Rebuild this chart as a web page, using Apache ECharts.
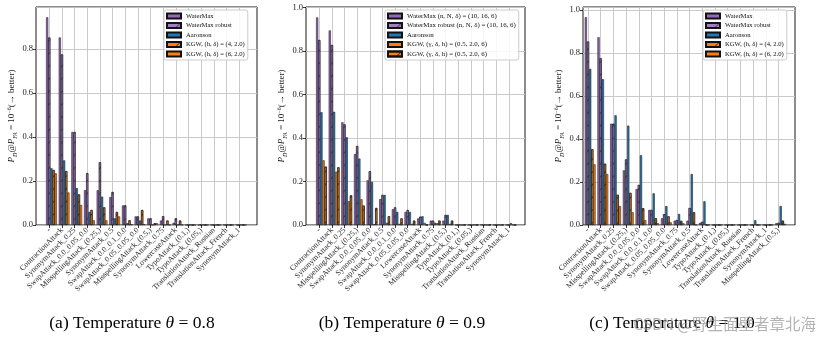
<!DOCTYPE html>
<html><head><meta charset="utf-8">
<script src="https://cdn.jsdelivr.net/npm/echarts@6/dist/echarts.min.js"></script>
<style>html,body{margin:0;padding:0;background:#fff}#c{width:827px;height:341px}</style>
</head><body><div id="c"></div>
<script>
// ---------- data ----------
const categoriesA = ["-", "ContractionAttack", "SynonymAttack_0.25", "SwapAttack_0.0_0.05_0.0", "MisspellingAttack_(0.25,)", "SynonymAttack_0.5", "SwapAttack_0.0_0.1_0.0", "SwapAttack_0.05_0.05_0.0", "MisspellingAttack_(0.5,)", "SynonymAttack_0.75", "LowercaseAttack", "TypoAttack_(0.1,)", "TypoAttack_(0.05,)", "TranslationAttack_Russian", "TranslationAttack_French", "SynonymAttack_1"];
const categoriesB = ["-", "ContractionAttack", "SynonymAttack_0.25", "MisspellingAttack_(0.25,)", "SwapAttack_0.0_0.05_0.0", "SynonymAttack_0.5", "SwapAttack_0.0_0.1_0.0", "SwapAttack_0.05_0.05_0.0", "LowercaseAttack", "SynonymAttack_0.75", "MisspellingAttack_(0.5,)", "TypoAttack_(0.1,)", "TypoAttack_(0.05,)", "TranslationAttack_Russian", "TranslationAttack_French", "SynonymAttack_1"];
const categoriesC = ["-", "ContractionAttack", "SynonymAttack_0.25", "MisspellingAttack_(0.25,)", "SwapAttack_0.0_0.05_0.0", "SwapAttack_0.0_0.1_0.0", "SwapAttack_0.05_0.05_0.0", "SynonymAttack_0.75", "SynonymAttack_0.5", "LowercaseAttack", "TypoAttack_(0.1,)", "TypoAttack_(0.05,)", "TranslationAttack_Russian", "TranslationAttack_French", "SynonymAttack_1", "MisspellingAttack_(0.5,)"];

const namesA = ["WaterMax", "WaterMax robust", "Aaronson", "KGW, (h, δ) = (4, 2.0)", "KGW, (h, δ) = (6, 2.0)"];
const namesB = ["WaterMax (n, N, δ) = (10, 16, 6)", "WaterMax robust (n, N, δ) = (10, 16, 6)", "Aaronson", "KGW, (γ, δ, h) = (0.5, 2.0, 6)", "KGW, (γ, δ, h) = (0.5, 2.0, 6) "];
const namesC = ["WaterMax", "WaterMax robust", "Aaronson", "KGW, (h, δ) = (4, 2.0)", "KGW, (h, δ) = (6, 2.0)"];

const watermaxA       = [0.945, 0.853, 0.423, 0.158, 0.158, 0.127, 0.089, 0.039, 0.030, 0.020, 0.010, 0, 0, 0, 0, 0];
const watermaxRobustA = [0.853, 0.776, 0.423, 0.236, 0.285, 0.150, 0.089, 0.039, 0.030, 0.040, 0.030, 0, 0, 0, 0, 0];
const aaronsonA       = [0.258, 0.294, 0.168, 0.059, 0.129, 0.030, 0.008, 0.020, 0.000, 0.000, 0.000, 0, 0, 0, 0, 0];
const kgw4A           = [0.250, 0.245, 0.139, 0.068, 0.080, 0.059, 0.021, 0.068, 0.008, 0.020, 0.020, 0, 0, 0, 0, 0];
const kgw6A           = [0.235, 0.148, 0.091, 0.021, 0.021, 0.039, 0.003, 0.003, 0.008, 0.000, 0.000, 0, 0, 0, 0, 0];

const watermaxB       = [0.954, 0.894, 0.472, 0.326, 0.205, 0.119, 0.072, 0.060, 0.030, 0.020, 0.020, 0, 0, 0, 0, 0];
const watermaxRobustB = [0.850, 0.827, 0.462, 0.363, 0.247, 0.138, 0.081, 0.069, 0.038, 0.020, 0.046, 0, 0, 0, 0, 0];
const aaronsonB       = [0.518, 0.520, 0.403, 0.305, 0.198, 0.138, 0.060, 0.060, 0.040, 0.010, 0.046, 0, 0, 0, 0, 0.008];
const kgwPlainB       = [0.297, 0.245, 0.109, 0.118, 0.003, 0.010, 0.005, 0.005, 0.010, 0.008, 0.005, 0, 0, 0, 0, 0];
const kgwHatchB       = [0.268, 0.265, 0.136, 0.089, 0.078, 0.040, 0.030, 0.020, 0.000, 0.020, 0.020, 0, 0, 0, 0, 0];

const watermaxC       = [0.966, 0.873, 0.471, 0.254, 0.167, 0.070, 0.031, 0.020, 0.020, 0.010, 0, 0, 0, 0, 0, 0.008];
const watermaxRobustC = [0.853, 0.775, 0.471, 0.305, 0.186, 0.070, 0.050, 0.023, 0.079, 0.015, 0, 0, 0, 0, 0, 0.010];
const aaronsonC       = [0.726, 0.678, 0.510, 0.462, 0.324, 0.147, 0.088, 0.051, 0.237, 0.110, 0, 0, 0, 0.022, 0, 0.088];
const kgw4C           = [0.352, 0.285, 0.140, 0.149, 0.078, 0.031, 0.040, 0.019, 0.059, 0.000, 0, 0, 0, 0, 0, 0.020];
const kgw6C           = [0.282, 0.237, 0.088, 0.059, 0.022, 0.008, 0.012, 0.008, 0.000, 0.000, 0, 0, 0, 0, 0, 0.005];

const captionsText = ["(a) Temperature ", "(b) Temperature ", "(c) Temperature "];
const captionsValue = ["0.8", "0.9", "1.0"];
const watermarkText = "CSDN @野生面壁者章北海";

// ---------- styling / layout ----------
const FONT = "'Liberation Serif','DejaVu Serif',serif";
const PURPLE = '#9467bd', BLUE = '#1f77b4', ORANGE = '#ff7f0e';
const hatch = {symbol: 'rect', symbolSize: 1, dashArrayX: [1, 0], dashArrayY: [1, 8], rotation: -Math.PI / 4, color: 'rgba(0,0,0,0.55)'};

const panels = [
  {cats: categoriesA, names: namesA, data: [watermaxA, watermaxRobustA, aaronsonA, kgw4A, kgw6A],
   colors: [PURPLE, PURPLE, BLUE, ORANGE, ORANGE], hatched: [false, true, false, true, false],
   max: 0.992, L: 36, R: 257, T0: 49.3, S: 12.65, legendLeft: 164, capX: 132},
  {cats: categoriesB, names: namesB, data: [watermaxB, watermaxRobustB, aaronsonB, kgwPlainB, kgwHatchB],
   colors: [PURPLE, PURPLE, BLUE, ORANGE, ORANGE], hatched: [false, true, false, false, true],
   max: 1.002, L: 306, R: 525, T0: 319.3, S: 12.63, legendLeft: 385, capX: 402},
  {cats: categoriesC, names: namesC, data: [watermaxC, watermaxRobustC, aaronsonC, kgw4C, kgw6C],
   colors: [PURPLE, PURPLE, BLUE, ORANGE, ORANGE], hatched: [false, true, false, true, false],
   max: 1.014, L: 583, R: 795, T0: 588, S: 12.7, legendLeft: 703, capX: 672}
];

const TOP = 7, BOTTOM = 225;
const grid = [], xAxis = [], yAxis = [], series = [], legend = [], graphic = [];

panels.forEach((p, k) => {
  const ga = 2 * k, gb = 2 * k + 1;
  const w = p.S * 0.17;
  grid.push({left: p.L, width: p.R - p.L, top: TOP, height: BOTTOM - TOP, show: true,
             borderColor: '#000', borderWidth: 0.9, backgroundColor: 'transparent'});
  grid.push({left: p.T0, width: 15 * p.S, top: TOP, height: BOTTOM - TOP, show: false});
  xAxis.push({gridIndex: ga, type: 'value', min: 0, max: 1, show: false});
  xAxis.push({gridIndex: gb, type: 'category', data: p.cats, boundaryGap: false,
    axisLine: {show: false},
    axisTick: {show: true, interval: 0, length: 3, lineStyle: {color: '#000', width: 0.8}},
    axisLabel: {interval: 0, rotate: 45, fontFamily: FONT, fontSize: 7.8, color: '#222', margin: 4},
    splitLine: {show: true, interval: 0, lineStyle: {color: '#c4c4c4', width: 0.9}}});
  yAxis.push({gridIndex: ga, type: 'value', min: 0, max: p.max, interval: 0.2,
    axisLine: {show: false},
    axisTick: {show: true, length: 3, lineStyle: {color: '#000', width: 0.8}},
    axisLabel: {fontFamily: FONT, fontSize: 8.5, color: '#222', margin: 3, showMaxLabel: false,
                formatter: v => v.toFixed(1)},
    splitLine: {show: true, lineStyle: {color: '#c4c4c4', width: 0.9}},
    name: '{i|P}{sub|D}{n|@}{i|P}{sub|FA}{n| = 10}{sup|−6}{n|(→ better)}',
    nameLocation: 'middle', nameGap: 18,
    nameTextStyle: {fontFamily: FONT, fontSize: 9, color: '#222',
      rich: {
        i: {fontFamily: FONT, fontSize: 9, fontStyle: 'italic', lineHeight: 12, verticalAlign: 'middle'},
        n: {fontFamily: FONT, fontSize: 9, lineHeight: 12, verticalAlign: 'middle'},
        sub: {fontFamily: FONT, fontSize: 6, fontStyle: 'italic', lineHeight: 12, verticalAlign: 'bottom'},
        sup: {fontFamily: FONT, fontSize: 6, lineHeight: 12, verticalAlign: 'top'}
      }}});
  yAxis.push({gridIndex: gb, type: 'value', min: 0, max: p.max, show: false});

  // two empty slots so that the tick sits on the 2nd real bar (as in the source figure)
  for (let d = 0; d < 2; d++) {
    series.push({type: 'bar', name: '_pad' + k + d, xAxisIndex: gb, yAxisIndex: gb,
      data: p.cats.map(() => '-'), barWidth: w, barGap: '0%', silent: true,
      itemStyle: {color: 'rgba(0,0,0,0)'}});
  }
  p.data.forEach((vals, j) => {
    const itemStyle = {color: p.colors[j], borderColor: '#111', borderWidth: 0.5, opacity: j === 1 ? 0.85 : 1};
    if (p.hatched[j]) itemStyle.decal = hatch;
    series.push({type: 'bar', name: p.names[j], xAxisIndex: gb, yAxisIndex: gb, data: vals,
      barWidth: w, barGap: '0%', clip: false, itemStyle, emphasis: {disabled: true}});
  });

  legend.push({left: p.legendLeft, top: 10, orient: 'vertical', data: p.names, icon: 'rect',
    itemWidth: 14, itemHeight: 5, itemGap: 1.5, padding: [2, 3, 2, 2], selectedMode: false,
    backgroundColor: 'rgba(255,255,255,0.85)', borderColor: '#cccccc', borderWidth: 1, borderRadius: 2,
    textStyle: {fontFamily: FONT, fontSize: k === 1 ? 6.9 : 6.6, color: '#111', lineHeight: 8}});

  graphic.push({type: 'text', x: p.capX, y: 323, z: 10,
    style: {text: captionsText[k] + '{i|θ} = ' + captionsValue[k], fontFamily: FONT, fontSize: 17.5, fill: '#000',
            align: 'center', verticalAlign: 'middle',
            rich: {i: {fontFamily: FONT, fontSize: 17.5, fontStyle: 'italic', fill: '#000'}}}});
});

graphic.push({type: 'text', x: 816, y: 324, z: 20,
  style: {text: watermarkText, fontFamily: "'Noto Sans CJK SC', sans-serif", fontSize: 15.5,
          fill: 'rgba(150,150,150,0.72)', align: 'right', verticalAlign: 'middle'}});

const chart = echarts.init(document.getElementById('c'), null, {renderer: 'canvas'});
chart.setOption({animation: false, backgroundColor: '#fff', grid, xAxis, yAxis, series, legend, graphic});
</script>
</body></html>
